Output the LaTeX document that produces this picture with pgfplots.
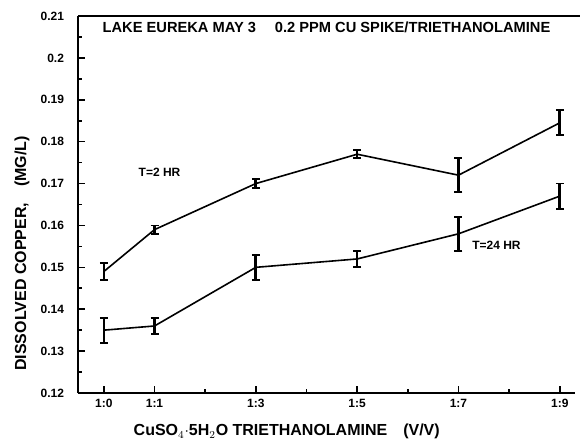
\documentclass[border=0pt]{standalone}
\usepackage{pgfplots}
\pgfplotsset{compat=1.18}
\usepackage{fontspec}
\setmainfont{Liberation Sans}
\begin{document}
\begin{tikzpicture}[x=1pt,y=1pt]
\useasboundingbox (-58.5,-36) rectangle (376.5,294.75);
\begin{axis}[
  at={(0,0)}, anchor=south west,
  scale only axis, width=372.75pt, height=282.75pt,
  xmin=-0.51, xmax=9.3, ymin=0.12, ymax=0.21,
  axis x line*=bottom, axis y line*=left,
  axis line style={line width=2pt, -},
  xtick={0,1,3,5,7,9},
  xticklabels={1:0,1:1,1:3,1:5,1:7,1:9},
  minor xtick={2,4,6,8},
  ytick={0.12,0.13,0.14,0.15,0.16,0.17,0.18,0.19,0.2,0.21},
  yticklabels={0.12,0.13,0.14,0.15,0.16,0.17,0.18,0.19,0.2,0.21},
  minor y tick num=1,
  tick align=inside,
  major tick length=5pt, minor tick length=3pt,
  tick style={line width=1.2pt, black},
  ticklabel style={font=\bfseries\small},
  yticklabel style={xshift=-7pt},
  xticklabel style={yshift=-1pt},
  xlabel={\bfseries CuSO$_4\cdot$5H$_2$O TRIETHANOLAMINE\quad (V/V)},
  ylabel={\bfseries DISSOLVED COPPER,\quad (MG/L)},
  xlabel style={font=\large, at={(rel axis cs:0.42,0)}, anchor=center, yshift=-29pt},
  ylabel style={font=\large, at={(rel axis cs:0,0.37)}, anchor=center, yshift=42pt},
  clip=false,
]
\draw[line width=2pt] (rel axis cs:0,1) -- (rel axis cs:1.01,1);
\node[anchor=north, font=\bfseries\fontsize{11}{13}\selectfont] at (rel axis cs:0.5,0.997) {LAKE EUREKA MAY 3\quad\ 0.2 PPM CU SPIKE/TRIETHANOLAMINE};
\addplot[black, line width=1.2pt, error bars/.cd, y dir=both, y explicit,
  error bar style={line width=2pt}, error mark options={rotate=90, mark size=3pt, line width=1.4pt}]
  table[x=x, y=y, y error=e] {
  x y e
  0 0.149 0.002
  1 0.159 0.001
  3 0.170 0.001
  5 0.177 0.001
  7 0.172 0.004
  9 0.1845 0.003
};
\addplot[black, line width=1.2pt, error bars/.cd, y dir=both, y explicit,
  error bar style={line width=2pt}, error mark options={rotate=90, mark size=3pt, line width=1.4pt}]
  table[x=x, y=y, y error=e] {
  x y e
  0 0.135 0.003
  1 0.136 0.002
  3 0.150 0.003
  5 0.152 0.002
  7 0.158 0.004
  9 0.167 0.003
};
\node[font=\bfseries\small] at (axis cs:1.1,0.1727) {T=2 HR};
\node[font=\bfseries\small] at (axis cs:7.75,0.1553) {T=24 HR};
\end{axis}
\end{tikzpicture}
\end{document}
